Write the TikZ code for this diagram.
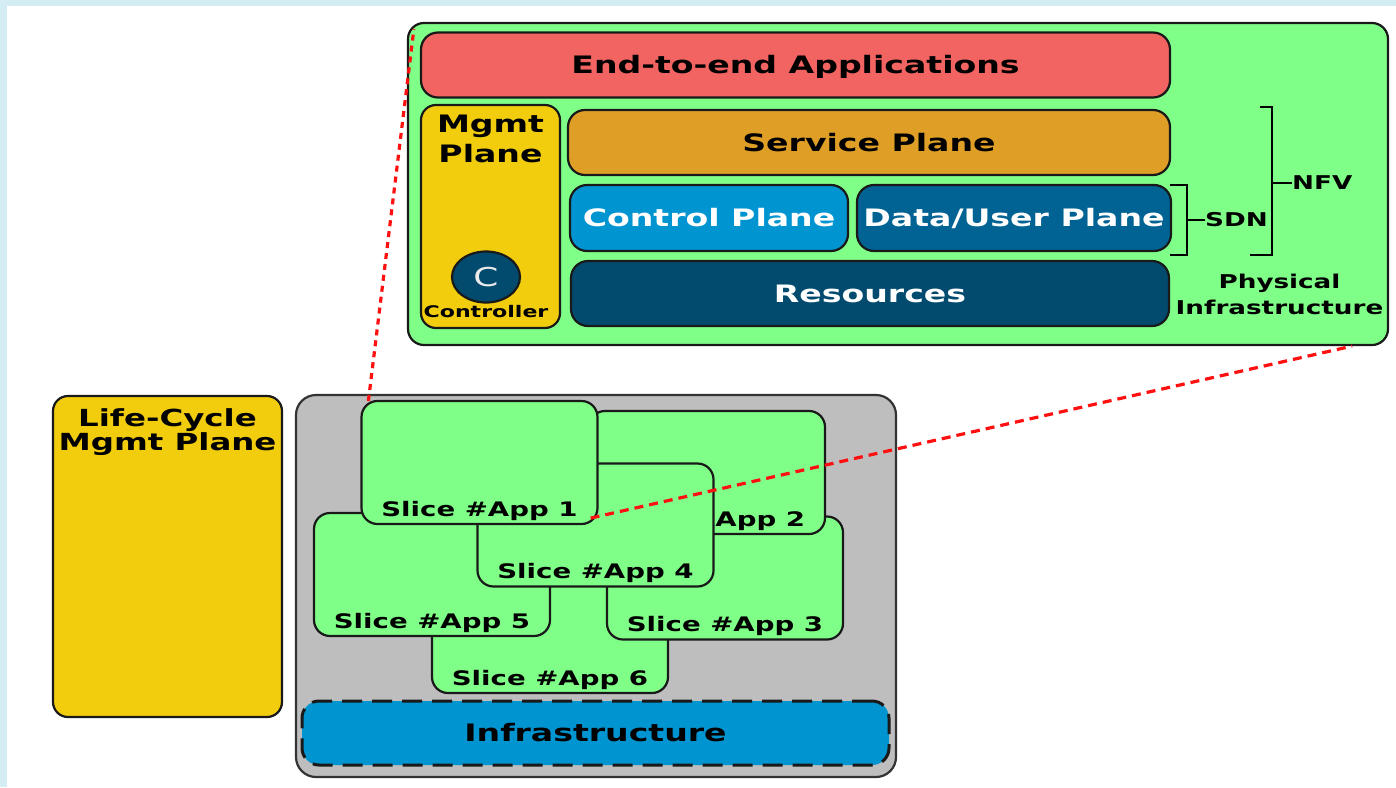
\documentclass[tikz,border=0pt]{standalone}
\usepackage{fontspec}
\setmainfont{DejaVu Sans}[FakeStretch=1.38]
\usetikzlibrary{shapes.geometric}

\definecolor{framebg}{HTML}{D4EDF4}
\definecolor{physgreen}{HTML}{80FF88}
\definecolor{appred}{HTML}{F26461}
\definecolor{mgmtyellow}{HTML}{F2CD0E}
\definecolor{svcorange}{HTML}{DF9F27}
\definecolor{ctrlblue}{HTML}{0094D1}
\definecolor{datablue}{HTML}{006393}
\definecolor{resblue}{HTML}{024B6F}
\definecolor{slicegray}{HTML}{BEBEBE}
\definecolor{zoomred}{HTML}{FF1010}

\tikzset{
  layer/.style={draw=black!90, line width=2.2pt, rounded corners=17pt, minimum height=65pt,
    text height=17.5pt, text depth=0pt, font=\bfseries\fontsize{24}{29}\selectfont},
  slice/.style={draw=black!90, line width=2.2pt, rounded corners=16pt, fill=physgreen,
    minimum width=236pt, minimum height=123pt},
  slicetxt/.style={anchor=base, yshift=9pt, font=\bfseries\fontsize{20}{24}\selectfont},
  side/.style={inner sep=0pt, font=\bfseries\fontsize{19}{26}\selectfont},
  bracket/.style={line width=2pt},
  zoomline/.style={zoomred, line width=3.2pt}
}

\begin{document}
\begin{tikzpicture}[x=1pt, y=-1pt]
% Frame
\fill[framebg] (0,0) rectangle (1396,787);
\fill[white] (7,6) rectangle (1396,787);
\useasboundingbox (0,0) rectangle (1396,787);

% Zoomed slice: planes
\node[layer, fill=physgreen, minimum width=980pt, minimum height=322pt, rounded corners=16pt] (phys) at (898,184) {};
\node[layer, fill=appred, minimum width=749pt] (apps) at (795.5,65) {End-to-end Applications};
\node[layer, fill=mgmtyellow, minimum width=139pt, minimum height=223pt, rounded corners=15pt,
  label={[anchor=north, yshift=-8pt, align=center, font=\bfseries\fontsize{24}{29.5}\selectfont]north:Mgmt\\Plane}] (mgmt) at (490.5,216.5) {};
\node[ellipse, draw=black!90, line width=2.2pt, fill=resblue, minimum width=68pt, minimum height=51pt,
  inner sep=0pt, text=black!8, font=\fontsize{26}{30}\selectfont,
  label={[inner sep=1.5pt, font=\bfseries\fontsize{16}{19}\selectfont]below:Controller}] (ctrl) at (486,277) {C};
\node[layer, fill=svcorange, minimum width=602pt] (service) at (869,142.5) {Service Plane};
\node[layer, fill=ctrlblue, text=white, minimum width=278pt, minimum height=66pt] (control) at (709,218) {Control Plane};
\node[layer, fill=datablue, text=white, minimum width=314pt, minimum height=66pt] (data) at (1014,218) {Data/User Plane};
\node[layer, fill=resblue, text=white, minimum width=598pt] (resources) at (870,293.5) {Resources};

% Brackets
\node[side, anchor=west] (sdn) at (1205,220) {SDN};
\node[side, anchor=west] (nfv) at (1292,183) {NFV};
\node[side, anchor=north, align=center] (phystxt) at (1279.5,274) {Physical\\Infrastructure};
\draw[bracket] (1170,185) -- (1187,185) -- (1187,255) -- (1170,255);
\draw[bracket] (1187,220) -- (sdn);
\draw[bracket] (1260,107) -- (1272,107) -- (1272,255) -- (1250,255);
\draw[bracket] (1272,183) -- (nfv);

% Life-cycle management
\node[layer, fill=mgmtyellow, minimum width=229pt, minimum height=321pt, rounded corners=15pt,
  label={[anchor=north, yshift=-10pt, align=center, font=\bfseries\fontsize{23.5}{24.5}\selectfont]north:Life-Cycle\\Mgmt Plane}] (lcm) at (167.5,556.5) {};

% Slices over shared infrastructure
\node[draw=black!80, line width=2.2pt, fill=slicegray, rounded corners=20pt, minimum width=600pt, minimum height=382pt] (slices) at (596,586) {};
\foreach \n/\x/\y in {6/550/631.5, 3/725/578, 2/707/472.5, 5/432/574.5, 4/595.5/525, 1/479.5/462.5} {
    \node[slice, label={[slicetxt]south:Slice \#App \n}] (app\n) at (\x,\y) {};
}
\node[layer, fill=ctrlblue, dash pattern=on 20pt off 10pt, line width=3pt, minimum width=587pt, minimum height=64pt] (infra) at (595.5,733) {Infrastructure};

% Zoom lines
\draw[zoomline, dash pattern=on 6pt off 5pt] ([xshift=8pt,yshift=-1pt]app1.north west) -- ([xshift=7pt,yshift=-7pt]phys.north west);
\draw[zoomline, dash pattern=on 9pt off 6pt] ([xshift=-8pt,yshift=7pt]app1.south east) -- ([xshift=-37pt]phys.south east);

\end{tikzpicture}
\end{document}
